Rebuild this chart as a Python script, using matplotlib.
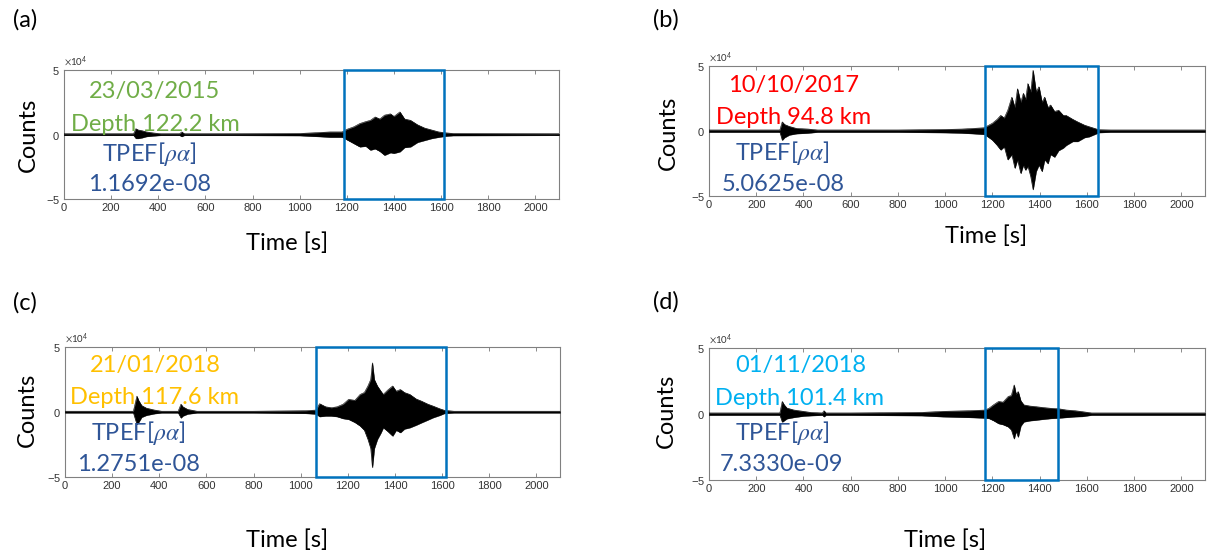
import matplotlib
matplotlib.use("Agg")
import matplotlib.pyplot as plt
from matplotlib.patches import Rectangle

plt.rcParams['font.family'] = ['Lato', 'DejaVu Sans']
plt.rcParams['mathtext.fontset'] = 'stix'

# envelope of each trace, counts in units of 1e4
t_a = [0, 150, 295, 305, 315, 330, 350, 380, 410, 490, 500, 510, 700, 1000, 1080, 1130, 1180, 1200, 1230, 1255,
       1280, 1300, 1320, 1340, 1360, 1385, 1400, 1425, 1445, 1470, 1500, 1530, 1560, 1590, 1620, 1650, 2100]
up_a = [0.06, 0.06, 0.06, 0.45, 0.35, 0.3, 0.2, 0.12, 0.06, 0.06, 0.2, 0.06, 0.06, 0.08, 0.15, 0.2, 0.2, 0.4, 0.6, 0.85,
        1.0, 1.1, 1.36, 1.2, 1.5, 1.6, 1.4, 1.75, 1.2, 1.1, 0.75, 0.5, 0.35, 0.2, 0.13, 0.08, 0.06]
lo_a = [-0.06, -0.06, -0.06, -0.3, -0.3, -0.25, -0.15, -0.1, -0.06, -0.06, -0.15, -0.06, -0.06, -0.08, -0.15, -0.2, -0.2, -0.4, -0.7, -0.95,
        -0.9, -1.2, -1.1, -1.3, -1.6, -1.4, -1.45, -1.33, -1.0, -0.95, -0.6, -0.45, -0.3, -0.2, -0.12, -0.08, -0.06]

t_b = [0, 300, 310, 320, 340, 370, 420, 460, 800, 1000, 1070, 1120, 1165, 1185, 1200, 1220, 1235, 1250, 1265, 1282,
       1295, 1306, 1320, 1331, 1340, 1350, 1362, 1372, 1385, 1397, 1410, 1421, 1435, 1446, 1463, 1480, 1500, 1512, 1540, 1561,
       1590, 1610, 1650, 1700, 2100]
up_b = [0.08, 0.08, 0.7, 0.5, 0.35, 0.2, 0.15, 0.08, 0.08, 0.12, 0.15, 0.2, 0.25, 0.45, 0.6, 0.9, 1.2, 1.0, 1.6, 2.6,
        1.8, 3.25, 2.2, 2.9, 2.4, 3.65, 3.0, 4.67, 3.0, 3.4, 2.2, 2.6, 1.8, 2.0, 1.5, 1.6, 1.2, 1.2, 0.9, 0.7,
        0.45, 0.33, 0.1, 0.08, 0.08]
lo_b = [-0.08, -0.08, -0.7, -0.5, -0.3, -0.2, -0.15, -0.08, -0.08, -0.12, -0.15, -0.2, -0.25, -0.5, -0.7, -1.1, -1.45, -1.2, -2.2, -1.8,
        -2.85, -2.2, -3.25, -2.6, -3.0, -2.7, -3.5, -4.5, -3.1, -2.6, -3.1, -2.2, -2.5, -1.8, -2.0, -1.5, -1.3, -1.1, -0.8, -0.8,
        -0.5, -0.43, -0.12, -0.08, -0.08]

t_c = [0, 290, 305, 312, 325, 345, 380, 410, 480, 492, 500, 520, 560, 800, 1020, 1065, 1080, 1106, 1130, 1154,
       1180, 1203, 1230, 1252, 1270, 1285, 1297, 1304, 1312, 1325, 1340, 1350, 1370, 1390, 1405, 1423, 1440, 1463, 1490, 1512,
       1540, 1561, 1590, 1610, 1650, 2100]
up_c = [0.06, 0.06, 1.22, 0.9, 0.5, 0.3, 0.15, 0.06, 0.06, 0.6, 0.4, 0.2, 0.06, 0.06, 0.1, 0.15, 0.64, 0.4, 0.33, 0.4,
        0.6, 0.97, 0.9, 1.35, 1.5, 2.0, 2.5, 3.78, 2.5, 2.0, 1.6, 1.35, 1.7, 2.0, 1.6, 1.73, 1.5, 1.35, 1.0, 0.84,
        0.6, 0.46, 0.25, 0.13, 0.06, 0.06]
lo_c = [-0.06, -0.06, -0.95, -0.8, -0.4, -0.25, -0.12, -0.06, -0.06, -0.45, -0.3, -0.15, -0.06, -0.06, -0.1, -0.15, -0.35, -0.3, -0.3, -0.35,
        -0.5, -0.56, -0.8, -1.07, -1.4, -2.1, -2.8, -4.26, -2.8, -2.1, -1.6, -1.2, -1.5, -1.84, -1.4, -1.58, -1.3, -1.2, -1.0, -0.82,
        -0.6, -0.43, -0.25, -0.1, -0.06, -0.06]

t_d = [0, 300, 310, 318, 330, 360, 400, 430, 480, 487, 495, 600, 900, 990, 1100, 1169, 1185, 1205, 1226, 1245,
       1267, 1280, 1292, 1300, 1309, 1320, 1333, 1360, 1383, 1410, 1448, 1480, 1514, 1550, 1580, 1620, 2100]
up_d = [0.08, 0.08, 0.95, 0.7, 0.45, 0.3, 0.2, 0.12, 0.08, 0.25, 0.08, 0.08, 0.12, 0.2, 0.25, 0.3, 0.43, 0.7, 0.95, 0.9,
        1.33, 1.4, 2.2, 1.5, 1.7, 1.0, 0.69, 0.6, 0.56, 0.5, 0.43, 0.4, 0.3, 0.25, 0.18, 0.08, 0.08]
lo_d = [-0.08, -0.08, -0.6, -0.5, -0.35, -0.25, -0.15, -0.12, -0.08, -0.2, -0.08, -0.08, -0.12, -0.2, -0.25, -0.3, -0.33, -0.5, -0.72, -0.8,
        -0.97, -1.2, -1.87, -1.3, -1.74, -0.9, -0.59, -0.5, -0.46, -0.4, -0.33, -0.3, -0.25, -0.2, -0.18, -0.08, -0.08]

panels = ['(a)', '(b)', '(c)', '(d)']
dates = ['23/03/2015', '10/10/2017', '21/01/2018', '01/11/2018']
depths = ['Depth 122.2 km', 'Depth 94.8 km', 'Depth 117.6 km', 'Depth 101.4 km']
tpef = ['1.1692e-08', '5.0625e-08', '1.2751e-08', '7.3330e-09']
date_colors = ['#70AD47', '#FF0000', '#FFC000', '#00B0F0']
box_start = [1188, 1168, 1065, 1170]
box_end = [1611, 1648, 1615, 1478]
times = [t_a, t_b, t_c, t_d]
uppers = [up_a, up_b, up_c, up_d]
lowers = [lo_a, lo_b, lo_c, lo_d]

W, H = 1209, 557
fig = plt.figure(figsize=(W / 100, H / 100), dpi=100)

# axes boxes in pixels: left, top, right, bottom
rects = [(64, 70, 559, 199), (709, 66, 1205, 196), (65, 347, 560, 477), (709, 348, 1205, 480)]
letter_xy = [(25, 20), (666, 20), (25, 303), (666, 302)]
counts_xy = [(28, 135), (668, 133), (27, 410), (666, 411)]
time_xy = [(287, 243), (986, 236), (287, 540), (945, 540)]
text_x = [[386, 386, 362, 362], [358, 357, 309, 312], [382, 379, 309, 311], [387, 384, 308, 308]]
text_y = [[3.33, 0.8, -1.5, -3.9], [3.52, 1.05, -1.7, -4.1], [3.6, 1.1, -1.63, -4.05], [3.68, 1.2, -1.43, -3.84]]

big = 17

for i in range(4):
    l, t, r, b = rects[i]
    ax = fig.add_axes([l / W, 1 - b / H, (r - l) / W, (b - t) / H])
    x = times[i]
    up = [v * 1e4 for v in uppers[i]]
    lo = [v * 1e4 for v in lowers[i]]
    ax.fill_between(x, lo, up, color='black', linewidth=0.3, zorder=3)
    ax.plot(x, up, color='black', lw=0.4, zorder=3)
    ax.plot(x, lo, color='black', lw=0.4, zorder=3)

    ax.add_patch(Rectangle((box_start[i], -5e4), box_end[i] - box_start[i], 10e4,
                           fill=False, edgecolor='#0072BD', linewidth=1.8, zorder=4, clip_on=False))

    ax.set_xlim(0, 2100)
    ax.set_ylim(-5e4, 5e4)
    ax.set_xticks(range(0, 2001, 200))
    ax.set_yticks([-5e4, 0, 5e4])
    ax.ticklabel_format(axis='y', style='sci', scilimits=(0, 0), useMathText=True)
    ax.yaxis.get_offset_text().set_fontsize(7)
    ax.yaxis.get_offset_text().set_color('#555555')
    ax.tick_params(direction='in', top=True, right=True, length=3, width=0.6,
                   colors='#777777', labelcolor='#333333', labelsize=8, pad=3)
    for lab in ax.get_xticklabels() + ax.get_yticklabels():
        lab.set_family('Liberation Sans')
    for sp in ax.spines.values():
        sp.set_color('#808080')
        sp.set_linewidth(0.8)

    ax.text(text_x[i][0], text_y[i][0] * 1e4, dates[i], color=date_colors[i], fontsize=big,
            ha='center', va='center', zorder=5)
    ax.text(text_x[i][1], text_y[i][1] * 1e4, depths[i], color=date_colors[i], fontsize=big,
            ha='center', va='center', zorder=5)
    ax.text(text_x[i][2], text_y[i][2] * 1e4, r'TPEF[$\rho\alpha$]', color='#2F5597', fontsize=big,
            ha='center', va='center', zorder=5)
    ax.text(text_x[i][3], text_y[i][3] * 1e4, tpef[i], color='#2F5597', fontsize=big,
            ha='center', va='center', zorder=5)

    fig.text(letter_xy[i][0] / W, 1 - letter_xy[i][1] / H, panels[i], fontsize=big,
             ha='center', va='center')
    fig.text(counts_xy[i][0] / W, 1 - counts_xy[i][1] / H, 'Counts', fontsize=big,
             ha='center', va='center', rotation=90)
    fig.text(time_xy[i][0] / W, 1 - time_xy[i][1] / H, 'Time [s]', fontsize=big,
             ha='center', va='center')

fig.savefig('out.png', dpi=100)
